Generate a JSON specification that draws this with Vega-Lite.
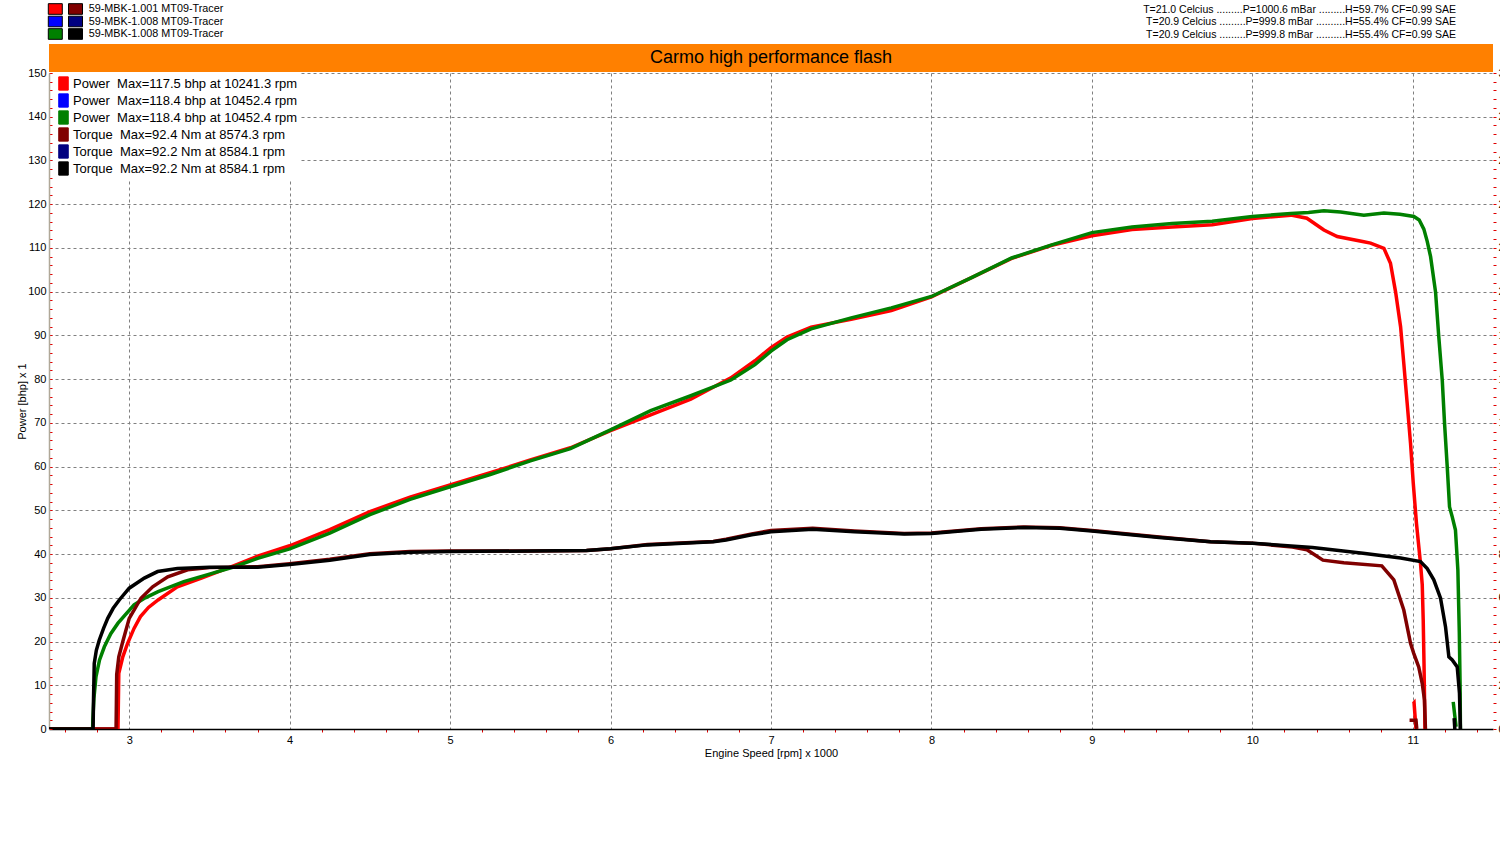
{
  "$schema": "https://vega.github.io/schema/vega-lite/v6.json",
  "description": "Dyno chart: power and torque of three runs, Carmo high performance flash",
  "background": "white",
  "padding": {"left": 16, "top": 0, "right": 0, "bottom": 4},
  "config": {
    "font": "Liberation Sans",
    "view": {"stroke": null},
    "text": {"color": "black"},
    "axis": {"labelOverlap": false}
  },
  "datasets": {
    "files": [
      {"run": "1", "pw": "P1", "tq": "T1", "name": "59-MBK-1.001 MT09-Tracer"},
      {"run": "2", "pw": "P2", "tq": "T2", "name": "59-MBK-1.008 MT09-Tracer"},
      {"run": "3", "pw": "P3", "tq": "T3", "name": "59-MBK-1.008 MT09-Tracer"}
    ],
    "power": [
      {"rpm": 2.5, "v": 0, "key": "P1", "seg": "a"},
      {"rpm": 2.93, "v": 0, "key": "P1", "seg": "a"},
      {"rpm": 2.935, "v": 12.7, "key": "P1", "seg": "a"},
      {"rpm": 2.96, "v": 16.5, "key": "P1", "seg": "a"},
      {"rpm": 2.99, "v": 19.6, "key": "P1", "seg": "a"},
      {"rpm": 3.03, "v": 23.0, "key": "P1", "seg": "a"},
      {"rpm": 3.07, "v": 25.7, "key": "P1", "seg": "a"},
      {"rpm": 3.12, "v": 27.8, "key": "P1", "seg": "a"},
      {"rpm": 3.18, "v": 29.5, "key": "P1", "seg": "a"},
      {"rpm": 3.3, "v": 32.5, "key": "P1", "seg": "a"},
      {"rpm": 3.45, "v": 34.5, "key": "P1", "seg": "a"},
      {"rpm": 3.65, "v": 37.3, "key": "P1", "seg": "a"},
      {"rpm": 3.8, "v": 39.5, "key": "P1", "seg": "a"},
      {"rpm": 4.0, "v": 41.9, "key": "P1", "seg": "a"},
      {"rpm": 4.25, "v": 45.6, "key": "P1", "seg": "a"},
      {"rpm": 4.5, "v": 49.7, "key": "P1", "seg": "a"},
      {"rpm": 4.75, "v": 53.0, "key": "P1", "seg": "a"},
      {"rpm": 5.0, "v": 55.8, "key": "P1", "seg": "a"},
      {"rpm": 5.25, "v": 58.6, "key": "P1", "seg": "a"},
      {"rpm": 5.5, "v": 61.5, "key": "P1", "seg": "a"},
      {"rpm": 5.75, "v": 64.3, "key": "P1", "seg": "a"},
      {"rpm": 6.0, "v": 68.2, "key": "P1", "seg": "a"},
      {"rpm": 6.25, "v": 71.8, "key": "P1", "seg": "a"},
      {"rpm": 6.5, "v": 75.4, "key": "P1", "seg": "a"},
      {"rpm": 6.75, "v": 80.3, "key": "P1", "seg": "a"},
      {"rpm": 6.9, "v": 84.2, "key": "P1", "seg": "a"},
      {"rpm": 7.0, "v": 87.2, "key": "P1", "seg": "a"},
      {"rpm": 7.1, "v": 89.6, "key": "P1", "seg": "a"},
      {"rpm": 7.25, "v": 91.9, "key": "P1", "seg": "a"},
      {"rpm": 7.5, "v": 93.7, "key": "P1", "seg": "a"},
      {"rpm": 7.75, "v": 95.7, "key": "P1", "seg": "a"},
      {"rpm": 8.0, "v": 98.8, "key": "P1", "seg": "a"},
      {"rpm": 8.25, "v": 103.2, "key": "P1", "seg": "a"},
      {"rpm": 8.5, "v": 107.6, "key": "P1", "seg": "a"},
      {"rpm": 8.75, "v": 110.6, "key": "P1", "seg": "a"},
      {"rpm": 9.0, "v": 112.8, "key": "P1", "seg": "a"},
      {"rpm": 9.25, "v": 114.2, "key": "P1", "seg": "a"},
      {"rpm": 9.5, "v": 114.8, "key": "P1", "seg": "a"},
      {"rpm": 9.75, "v": 115.3, "key": "P1", "seg": "a"},
      {"rpm": 10.0, "v": 116.7, "key": "P1", "seg": "a"},
      {"rpm": 10.24, "v": 117.5, "key": "P1", "seg": "a"},
      {"rpm": 10.34, "v": 116.8, "key": "P1", "seg": "a"},
      {"rpm": 10.446, "v": 114.1, "key": "P1", "seg": "a"},
      {"rpm": 10.529, "v": 112.6, "key": "P1", "seg": "a"},
      {"rpm": 10.695, "v": 111.4, "key": "P1", "seg": "a"},
      {"rpm": 10.737, "v": 111.1, "key": "P1", "seg": "a"},
      {"rpm": 10.82, "v": 109.9, "key": "P1", "seg": "a"},
      {"rpm": 10.861, "v": 106.5, "key": "P1", "seg": "a"},
      {"rpm": 10.893, "v": 99.9, "key": "P1", "seg": "a"},
      {"rpm": 10.924, "v": 92.0, "key": "P1", "seg": "a"},
      {"rpm": 10.944, "v": 83.6, "key": "P1", "seg": "a"},
      {"rpm": 10.965, "v": 74.5, "key": "P1", "seg": "a"},
      {"rpm": 10.986, "v": 65.3, "key": "P1", "seg": "a"},
      {"rpm": 11.003, "v": 56.2, "key": "P1", "seg": "a"},
      {"rpm": 11.023, "v": 47.0, "key": "P1", "seg": "a"},
      {"rpm": 11.048, "v": 37.9, "key": "P1", "seg": "a"},
      {"rpm": 11.059, "v": 33.0, "key": "P1", "seg": "a"},
      {"rpm": 11.065, "v": 25.0, "key": "P1", "seg": "a"},
      {"rpm": 11.07, "v": 15.0, "key": "P1", "seg": "a"},
      {"rpm": 11.074, "v": 5.0, "key": "P1", "seg": "a"},
      {"rpm": 11.076, "v": 0, "key": "P1", "seg": "a"},
      {"rpm": 11.003, "v": 5.8, "key": "P1", "seg": "b"},
      {"rpm": 11.008, "v": 6.0, "key": "P1", "seg": "b"},
      {"rpm": 11.02, "v": 0, "key": "P1", "seg": "b"},
      {"rpm": 2.5, "v": 0, "key": "P3", "seg": "a"},
      {"rpm": 2.772, "v": 0, "key": "P3", "seg": "a"},
      {"rpm": 2.773, "v": 2, "key": "P3", "seg": "a"},
      {"rpm": 2.78, "v": 7, "key": "P3", "seg": "a"},
      {"rpm": 2.793, "v": 12, "key": "P3", "seg": "a"},
      {"rpm": 2.815, "v": 15.8, "key": "P3", "seg": "a"},
      {"rpm": 2.845, "v": 18.8, "key": "P3", "seg": "a"},
      {"rpm": 2.885, "v": 21.8, "key": "P3", "seg": "a"},
      {"rpm": 2.93, "v": 24.2, "key": "P3", "seg": "a"},
      {"rpm": 3.03, "v": 28.4, "key": "P3", "seg": "a"},
      {"rpm": 3.1, "v": 30.0, "key": "P3", "seg": "a"},
      {"rpm": 3.18, "v": 31.4, "key": "P3", "seg": "a"},
      {"rpm": 3.34, "v": 33.7, "key": "P3", "seg": "a"},
      {"rpm": 3.5, "v": 35.4, "key": "P3", "seg": "a"},
      {"rpm": 3.655, "v": 37.1, "key": "P3", "seg": "a"},
      {"rpm": 3.8, "v": 39.0, "key": "P3", "seg": "a"},
      {"rpm": 4.0, "v": 41.2, "key": "P3", "seg": "a"},
      {"rpm": 4.25, "v": 44.8, "key": "P3", "seg": "a"},
      {"rpm": 4.5, "v": 49.0, "key": "P3", "seg": "a"},
      {"rpm": 4.75, "v": 52.5, "key": "P3", "seg": "a"},
      {"rpm": 5.0, "v": 55.4, "key": "P3", "seg": "a"},
      {"rpm": 5.25, "v": 58.2, "key": "P3", "seg": "a"},
      {"rpm": 5.5, "v": 61.3, "key": "P3", "seg": "a"},
      {"rpm": 5.75, "v": 64.1, "key": "P3", "seg": "a"},
      {"rpm": 6.0, "v": 68.4, "key": "P3", "seg": "a"},
      {"rpm": 6.25, "v": 72.8, "key": "P3", "seg": "a"},
      {"rpm": 6.5, "v": 76.2, "key": "P3", "seg": "a"},
      {"rpm": 6.75, "v": 79.8, "key": "P3", "seg": "a"},
      {"rpm": 6.9, "v": 83.3, "key": "P3", "seg": "a"},
      {"rpm": 7.0, "v": 86.4, "key": "P3", "seg": "a"},
      {"rpm": 7.1, "v": 89.0, "key": "P3", "seg": "a"},
      {"rpm": 7.25, "v": 91.5, "key": "P3", "seg": "a"},
      {"rpm": 7.5, "v": 94.0, "key": "P3", "seg": "a"},
      {"rpm": 7.75, "v": 96.3, "key": "P3", "seg": "a"},
      {"rpm": 8.0, "v": 98.9, "key": "P3", "seg": "a"},
      {"rpm": 8.25, "v": 103.2, "key": "P3", "seg": "a"},
      {"rpm": 8.5, "v": 107.7, "key": "P3", "seg": "a"},
      {"rpm": 8.75, "v": 110.7, "key": "P3", "seg": "a"},
      {"rpm": 9.0, "v": 113.5, "key": "P3", "seg": "a"},
      {"rpm": 9.25, "v": 114.8, "key": "P3", "seg": "a"},
      {"rpm": 9.5, "v": 115.6, "key": "P3", "seg": "a"},
      {"rpm": 9.75, "v": 116.1, "key": "P3", "seg": "a"},
      {"rpm": 10.0, "v": 117.2, "key": "P3", "seg": "a"},
      {"rpm": 10.24, "v": 117.9, "key": "P3", "seg": "a"},
      {"rpm": 10.35, "v": 118.1, "key": "P3", "seg": "a"},
      {"rpm": 10.446, "v": 118.5, "key": "P3", "seg": "a"},
      {"rpm": 10.55, "v": 118.2, "key": "P3", "seg": "a"},
      {"rpm": 10.695, "v": 117.5, "key": "P3", "seg": "a"},
      {"rpm": 10.82, "v": 118.0, "key": "P3", "seg": "a"},
      {"rpm": 10.92, "v": 117.7, "key": "P3", "seg": "a"},
      {"rpm": 11.007, "v": 117.2, "key": "P3", "seg": "a"},
      {"rpm": 11.04, "v": 116.4, "key": "P3", "seg": "a"},
      {"rpm": 11.069, "v": 114.3, "key": "P3", "seg": "a"},
      {"rpm": 11.09, "v": 111.5, "key": "P3", "seg": "a"},
      {"rpm": 11.111, "v": 108.0, "key": "P3", "seg": "a"},
      {"rpm": 11.142, "v": 99.9, "key": "P3", "seg": "a"},
      {"rpm": 11.162, "v": 89.7, "key": "P3", "seg": "a"},
      {"rpm": 11.184, "v": 79.6, "key": "P3", "seg": "a"},
      {"rpm": 11.198, "v": 69.9, "key": "P3", "seg": "a"},
      {"rpm": 11.215, "v": 59.8, "key": "P3", "seg": "a"},
      {"rpm": 11.229, "v": 50.8, "key": "P3", "seg": "a"},
      {"rpm": 11.246, "v": 48.5, "key": "P3", "seg": "a"},
      {"rpm": 11.266, "v": 45.5, "key": "P3", "seg": "a"},
      {"rpm": 11.281, "v": 36.4, "key": "P3", "seg": "a"},
      {"rpm": 11.29, "v": 22.0, "key": "P3", "seg": "a"},
      {"rpm": 11.295, "v": 10.0, "key": "P3", "seg": "a"},
      {"rpm": 11.297, "v": 0, "key": "P3", "seg": "a"},
      {"rpm": 11.252, "v": 6.2, "key": "P3", "seg": "b"},
      {"rpm": 11.262, "v": 3.0, "key": "P3", "seg": "b"},
      {"rpm": 11.27, "v": 0.5, "key": "P3", "seg": "b"}
    ],
    "torque": [
      {"rpm": 2.5, "v": 0, "key": "T1", "seg": "a"},
      {"rpm": 2.918, "v": 0, "key": "T1", "seg": "a"},
      {"rpm": 2.92, "v": 12, "key": "T1", "seg": "a"},
      {"rpm": 2.922, "v": 25, "key": "T1", "seg": "a"},
      {"rpm": 2.935, "v": 33, "key": "T1", "seg": "a"},
      {"rpm": 2.96, "v": 40, "key": "T1", "seg": "a"},
      {"rpm": 3.0, "v": 50.6, "key": "T1", "seg": "a"},
      {"rpm": 3.073, "v": 59.8, "key": "T1", "seg": "a"},
      {"rpm": 3.146, "v": 65, "key": "T1", "seg": "a"},
      {"rpm": 3.24, "v": 69.6, "key": "T1", "seg": "a"},
      {"rpm": 3.364, "v": 72.8, "key": "T1", "seg": "a"},
      {"rpm": 3.5, "v": 73.8, "key": "T1", "seg": "a"},
      {"rpm": 3.8, "v": 74.2, "key": "T1", "seg": "a"},
      {"rpm": 4.0, "v": 75.6, "key": "T1", "seg": "a"},
      {"rpm": 4.25, "v": 77.6, "key": "T1", "seg": "a"},
      {"rpm": 4.5, "v": 80.2, "key": "T1", "seg": "a"},
      {"rpm": 4.75, "v": 81.2, "key": "T1", "seg": "a"},
      {"rpm": 5.0, "v": 81.4, "key": "T1", "seg": "a"},
      {"rpm": 5.5, "v": 81.4, "key": "T1", "seg": "a"},
      {"rpm": 5.85, "v": 81.6, "key": "T1", "seg": "a"},
      {"rpm": 6.0, "v": 82.4, "key": "T1", "seg": "a"},
      {"rpm": 6.23, "v": 84.4, "key": "T1", "seg": "a"},
      {"rpm": 6.64, "v": 85.8, "key": "T1", "seg": "a"},
      {"rpm": 6.72, "v": 86.8, "key": "T1", "seg": "a"},
      {"rpm": 6.88, "v": 89.2, "key": "T1", "seg": "a"},
      {"rpm": 7.0, "v": 90.8, "key": "T1", "seg": "a"},
      {"rpm": 7.26, "v": 91.8, "key": "T1", "seg": "a"},
      {"rpm": 7.52, "v": 90.6, "key": "T1", "seg": "a"},
      {"rpm": 7.83, "v": 89.4, "key": "T1", "seg": "a"},
      {"rpm": 8.0, "v": 89.6, "key": "T1", "seg": "a"},
      {"rpm": 8.31, "v": 91.6, "key": "T1", "seg": "a"},
      {"rpm": 8.574, "v": 92.4, "key": "T1", "seg": "a"},
      {"rpm": 8.8, "v": 92.0, "key": "T1", "seg": "a"},
      {"rpm": 9.0, "v": 90.8, "key": "T1", "seg": "a"},
      {"rpm": 9.42, "v": 87.8, "key": "T1", "seg": "a"},
      {"rpm": 9.74, "v": 85.6, "key": "T1", "seg": "a"},
      {"rpm": 10.0, "v": 85.0, "key": "T1", "seg": "a"},
      {"rpm": 10.25, "v": 83.2, "key": "T1", "seg": "a"},
      {"rpm": 10.34, "v": 82.0, "key": "T1", "seg": "a"},
      {"rpm": 10.44, "v": 77.2, "key": "T1", "seg": "a"},
      {"rpm": 10.57, "v": 76.0, "key": "T1", "seg": "a"},
      {"rpm": 10.807, "v": 74.6, "key": "T1", "seg": "a"},
      {"rpm": 10.882, "v": 68.2, "key": "T1", "seg": "a"},
      {"rpm": 10.944, "v": 54.4, "key": "T1", "seg": "a"},
      {"rpm": 10.986, "v": 39.2, "key": "T1", "seg": "a"},
      {"rpm": 11.006, "v": 34.6, "key": "T1", "seg": "a"},
      {"rpm": 11.037, "v": 28.4, "key": "T1", "seg": "a"},
      {"rpm": 11.059, "v": 20.8, "key": "T1", "seg": "a"},
      {"rpm": 11.073, "v": 13.2, "key": "T1", "seg": "a"},
      {"rpm": 11.079, "v": 0, "key": "T1", "seg": "a"},
      {"rpm": 10.98, "v": 4.0, "key": "T1", "seg": "b"},
      {"rpm": 11.02, "v": 4.0, "key": "T1", "seg": "b"},
      {"rpm": 11.025, "v": 0, "key": "T1", "seg": "b"},
      {"rpm": 2.5, "v": 0, "key": "T3", "seg": "a"},
      {"rpm": 2.775, "v": 0, "key": "T3", "seg": "a"},
      {"rpm": 2.777, "v": 12, "key": "T3", "seg": "a"},
      {"rpm": 2.782, "v": 30, "key": "T3", "seg": "a"},
      {"rpm": 2.795, "v": 36, "key": "T3", "seg": "a"},
      {"rpm": 2.813, "v": 40.6, "key": "T3", "seg": "a"},
      {"rpm": 2.84, "v": 46, "key": "T3", "seg": "a"},
      {"rpm": 2.866, "v": 50.6, "key": "T3", "seg": "a"},
      {"rpm": 2.9, "v": 55.2, "key": "T3", "seg": "a"},
      {"rpm": 2.938, "v": 59, "key": "T3", "seg": "a"},
      {"rpm": 3.0, "v": 64.4, "key": "T3", "seg": "a"},
      {"rpm": 3.094, "v": 69, "key": "T3", "seg": "a"},
      {"rpm": 3.177, "v": 72, "key": "T3", "seg": "a"},
      {"rpm": 3.3, "v": 73.4, "key": "T3", "seg": "a"},
      {"rpm": 3.5, "v": 74, "key": "T3", "seg": "a"},
      {"rpm": 3.8, "v": 74, "key": "T3", "seg": "a"},
      {"rpm": 4.0, "v": 75.2, "key": "T3", "seg": "a"},
      {"rpm": 4.25, "v": 77.2, "key": "T3", "seg": "a"},
      {"rpm": 4.5, "v": 79.8, "key": "T3", "seg": "a"},
      {"rpm": 4.75, "v": 80.8, "key": "T3", "seg": "a"},
      {"rpm": 5.0, "v": 81.2, "key": "T3", "seg": "a"},
      {"rpm": 5.5, "v": 81.4, "key": "T3", "seg": "a"},
      {"rpm": 5.85, "v": 81.6, "key": "T3", "seg": "a"},
      {"rpm": 6.0, "v": 82.4, "key": "T3", "seg": "a"},
      {"rpm": 6.23, "v": 84.2, "key": "T3", "seg": "a"},
      {"rpm": 6.64, "v": 85.6, "key": "T3", "seg": "a"},
      {"rpm": 6.72, "v": 86.4, "key": "T3", "seg": "a"},
      {"rpm": 6.88, "v": 88.8, "key": "T3", "seg": "a"},
      {"rpm": 7.0, "v": 90.2, "key": "T3", "seg": "a"},
      {"rpm": 7.26, "v": 91.4, "key": "T3", "seg": "a"},
      {"rpm": 7.52, "v": 90.2, "key": "T3", "seg": "a"},
      {"rpm": 7.83, "v": 89.2, "key": "T3", "seg": "a"},
      {"rpm": 8.0, "v": 89.4, "key": "T3", "seg": "a"},
      {"rpm": 8.31, "v": 91.4, "key": "T3", "seg": "a"},
      {"rpm": 8.584, "v": 92.2, "key": "T3", "seg": "a"},
      {"rpm": 8.8, "v": 91.8, "key": "T3", "seg": "a"},
      {"rpm": 9.0, "v": 90.6, "key": "T3", "seg": "a"},
      {"rpm": 9.42, "v": 87.6, "key": "T3", "seg": "a"},
      {"rpm": 9.74, "v": 85.6, "key": "T3", "seg": "a"},
      {"rpm": 10.0, "v": 85.0, "key": "T3", "seg": "a"},
      {"rpm": 10.375, "v": 83.0, "key": "T3", "seg": "a"},
      {"rpm": 10.69, "v": 80.4, "key": "T3", "seg": "a"},
      {"rpm": 10.924, "v": 78.2, "key": "T3", "seg": "a"},
      {"rpm": 11.048, "v": 76.6, "key": "T3", "seg": "a"},
      {"rpm": 11.09, "v": 73.4, "key": "T3", "seg": "a"},
      {"rpm": 11.131, "v": 68.2, "key": "T3", "seg": "a"},
      {"rpm": 11.173, "v": 59.8, "key": "T3", "seg": "a"},
      {"rpm": 11.204, "v": 46.8, "key": "T3", "seg": "a"},
      {"rpm": 11.225, "v": 33.0, "key": "T3", "seg": "a"},
      {"rpm": 11.246, "v": 31.6, "key": "T3", "seg": "a"},
      {"rpm": 11.277, "v": 28.4, "key": "T3", "seg": "a"},
      {"rpm": 11.291, "v": 16.4, "key": "T3", "seg": "a"},
      {"rpm": 11.297, "v": 0, "key": "T3", "seg": "a"},
      {"rpm": 11.258, "v": 5.0, "key": "T3", "seg": "b"},
      {"rpm": 11.262, "v": 0, "key": "T3", "seg": "b"}
    ]
  },
  "bounds": "flush",
  "spacing": 1,
  "resolve": {"scale": {"color": "independent"}, "legend": {"color": "independent"}},
  "vconcat": [
    {
      "width": 53,
      "height": 43,
      "data": {"name": "files"},
      "encoding": {
        "y": {"field": "run", "type": "nominal", "axis": null, "scale": {"type": "point", "padding": 0.72}}
      },
      "layer": [
        {
          "mark": {"type": "point", "shape": "M-1,-0.76H1V0.76H-1Z", "filled": true, "size": 196, "opacity": 1, "stroke": "black", "strokeWidth": 1},
          "encoding": {
            "x": {"datum": "power", "type": "nominal", "axis": null, "scale": {"type": "point", "domain": ["power", "torque", "name"], "padding": 0.312}},
            "fill": {"field": "pw", "type": "nominal", "legend": null, "scale": {"domain": ["P1", "P2", "P3", "T1", "T2", "T3"], "range": ["#ff0000", "#0000ff", "#008000", "#800000", "#000080", "#000000"]}}
          }
        },
        {
          "mark": {"type": "point", "shape": "M-1,-0.76H1V0.76H-1Z", "filled": true, "size": 196, "opacity": 1, "stroke": "black", "strokeWidth": 1},
          "encoding": {
            "x": {"datum": "torque", "type": "nominal"},
            "fill": {"field": "tq", "type": "nominal", "legend": null}
          }
        },
        {
          "mark": {"type": "text", "align": "left", "dx": -7, "fontSize": 10.8},
          "encoding": {
            "x": {"datum": "name", "type": "nominal"},
            "text": {"field": "name"}
          }
        }
      ]
    },
    {
      "width": 1444,
      "height": 28,
      "view": {"fill": "#ff8000", "stroke": null},
      "title": {
        "text": [
          "T=21.0 Celcius .........P=1000.6 mBar .........H=59.7% CF=0.99 SAE",
          "T=20.9 Celcius .........P=999.8 mBar ..........H=55.4% CF=0.99 SAE",
          "T=20.9 Celcius .........P=999.8 mBar ..........H=55.4% CF=0.99 SAE"
        ],
        "anchor": "end",
        "fontSize": 10.5,
        "fontWeight": "normal",
        "color": "black",
        "lineHeight": 12.5,
        "offset": 4,
        "dx": -37
      },
      "data": {"values": [{"t": "Carmo high performance flash"}]},
      "mark": {"type": "text", "fontSize": 18},
      "encoding": {"text": {"field": "t"}}
    },
    {
      "name": "main",
      "width": 1444,
      "height": 656,
      "encoding": {
        "x": {
          "field": "rpm",
          "type": "quantitative",
          "scale": {"domain": [2.5, 11.5], "nice": false, "zero": false},
          "axis": {
            "values": [2.6, 2.8, 3, 3.2, 3.4, 3.6, 3.8, 4, 4.2, 4.4, 4.6, 4.8, 5, 5.2, 5.4, 5.6, 5.8, 6, 6.2, 6.4, 6.6, 6.8, 7, 7.2, 7.4, 7.6, 7.8, 8, 8.2, 8.4, 8.6, 8.8, 9, 9.2, 9.4, 9.6, 9.8, 10, 10.2, 10.4, 10.6, 10.8, 11, 11.2, 11.4],
            "labelExpr": "abs(datum.value - round(datum.value)) < 0.01 ? format(datum.value, 'd') : ''",
            "labelOverlap": false,
            "labelFlush": false,
            "labelFontSize": 11,
            "labelColor": "black",
            "labelPadding": 2,
            "grid": true,
            "gridColor": "#808080",
            "gridDash": [3, 3],
            "gridWidth": 1,
            "gridOpacity": {"condition": {"test": "abs(datum.value - round(datum.value)) < 0.01", "value": 1}, "value": 0},
            "tickColor": {"condition": {"test": "abs(datum.value - round(datum.value)) < 0.01", "value": "transparent"}, "value": "#e00000"},
            "tickSize": 3,
            "domainColor": "black",
            "domainWidth": 1.5,
            "title": "Engine Speed [rpm] x 1000",
            "titleFontSize": 11,
            "titleFontWeight": "normal",
            "titleColor": "black",
            "titlePadding": 2
          }
        },
        "color": {
          "field": "key",
          "type": "nominal",
          "scale": {"domain": ["P1", "P2", "P3", "T1", "T2", "T3"], "range": ["#ff0000", "#0000ff", "#008000", "#800000", "#000080", "#000000"]},
          "legend": {
            "orient": "none",
            "legendX": 4,
            "legendY": 0,
            "title": null,
            "fillColor": "white",
            "padding": 3,
            "symbolType": "M-0.68,-0.95H0.68V0.95H-0.68Z",
            "symbolSize": 196,
            "symbolStrokeWidth": 1,
            "labelFontSize": 13,
            "labelColor": "black",
            "labelOffset": 2,
            "labelLimit": 400,
            "rowPadding": -4,
            "labelExpr": "datum.label == 'P1' ? 'Power\u00a0 Max=117.5 bhp at 10241.3 rpm' : datum.label == 'P2' ? 'Power\u00a0 Max=118.4 bhp at 10452.4 rpm' : datum.label == 'P3' ? 'Power\u00a0 Max=118.4 bhp at 10452.4 rpm' : datum.label == 'T1' ? 'Torque\u00a0 Max=92.4 Nm at 8574.3 rpm' : datum.label == 'T2' ? 'Torque\u00a0 Max=92.2 Nm at 8584.1 rpm' : 'Torque\u00a0 Max=92.2 Nm at 8584.1 rpm'",
            "encode": {
              "symbols": {
                "update": {
                  "fill": {"signal": "datum.value == 'P1' ? '#ff0000' : datum.value == 'P2' ? '#0000ff' : datum.value == 'P3' ? '#008000' : datum.value == 'T1' ? '#800000' : datum.value == 'T2' ? '#000080' : '#000000'"},
                  "stroke": {"value": "black"},
                  "opacity": {"value": 1}
                }
              }
            }
          }
        },
        "detail": {"field": "seg", "type": "nominal"}
      },
      "layer": [
        {
          "data": {"name": "power"},
          "mark": {"type": "line", "strokeWidth": 3.5, "clip": true},
          "encoding": {
            "y": {
              "field": "v",
              "type": "quantitative",
              "scale": {"domain": [0, 150], "nice": false},
              "axis": {
                "orient": "left",
                "values": [0, 2, 4, 6, 8, 10, 12, 14, 16, 18, 20, 22, 24, 26, 28, 30, 32, 34, 36, 38, 40, 42, 44, 46, 48, 50, 52, 54, 56, 58, 60, 62, 64, 66, 68, 70, 72, 74, 76, 78, 80, 82, 84, 86, 88, 90, 92, 94, 96, 98, 100, 102, 104, 106, 108, 110, 112, 114, 116, 118, 120, 122, 124, 126, 128, 130, 132, 134, 136, 138, 140, 142, 144, 146, 148, 150],
                "labelExpr": "datum.value % 10 == 0 ? datum.label : ''",
                "labelOverlap": false,
                "labelFlush": false,
                "labelFontSize": 11,
                "labelColor": "black",
                "labelPadding": 6,
                "grid": true,
                "gridColor": "#808080",
                "gridDash": [3, 3],
                "gridWidth": 1,
                "gridOpacity": {"condition": {"test": "datum.value % 10 == 0", "value": 1}, "value": 0},
                "tickColor": "#e00000",
                "tickSize": -3,
                "domainColor": "#b0a898",
                "domainWidth": 1.5,
                "title": "Power [bhp] x 1",
                "titleFontSize": 11,
                "titleFontWeight": "normal",
                "titleColor": "black",
                "titlePadding": 0
              }
            }
          }
        },
        {
          "data": {"name": "torque"},
          "mark": {"type": "line", "strokeWidth": 3.5, "clip": true},
          "encoding": {
            "y": {
              "field": "v",
              "type": "quantitative",
              "scale": {"domain": [0, 300], "nice": false},
              "axis": {
                "orient": "right",
                "values": [0, 4, 8, 12, 16, 20, 24, 28, 32, 36, 40, 44, 48, 52, 56, 60, 64, 68, 72, 76, 80, 84, 88, 92, 96, 100, 104, 108, 112, 116, 120, 124, 128, 132, 136, 140, 144, 148, 152, 156, 160, 164, 168, 172, 176, 180, 184, 188, 192, 196, 200, 204, 208, 212, 216, 220, 224, 228, 232, 236, 240, 244, 248, 252, 256, 260, 264, 268, 272, 276, 280, 284, 288, 292, 296, 300],
                "labelExpr": "datum.value % 20 == 0 ? datum.label : ''",
                "labelOverlap": false,
                "labelFlush": false,
                "labelFontSize": 11,
                "labelColor": "black",
                "labelPadding": 2,
                "grid": false,
                "domain": false,
                "tickColor": "#e00000",
                "tickSize": 3,
                "title": null
              }
            }
          }
        }
      ],
      "resolve": {"scale": {"y": "independent"}}
    }
  ]
}
